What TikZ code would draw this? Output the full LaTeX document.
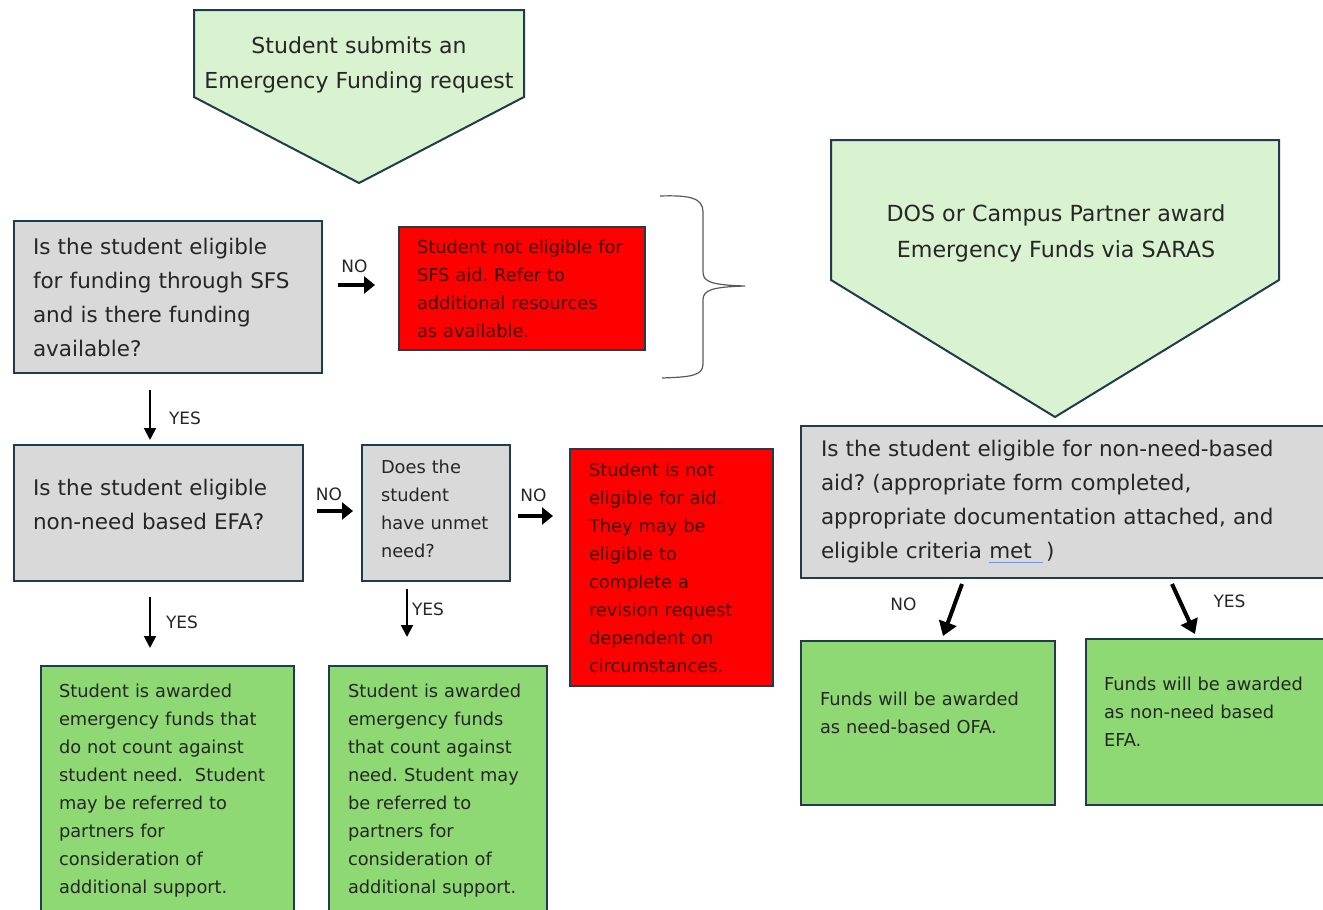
\documentclass[tikz,border=0pt]{standalone}
\usepackage{fontspec}
\setmainfont{DejaVu Sans}
\usetikzlibrary{arrows.meta,calc}

\definecolor{edgeblue}{RGB}{31,59,77}
\definecolor{paleGreen}{RGB}{217,242,208}
\definecolor{boxgray}{RGB}{217,217,217}
\definecolor{alertred}{RGB}{255,0,0}
\definecolor{redtext}{RGB}{70,0,0}
\definecolor{okgreen}{RGB}{142,217,115}
\definecolor{txtgray}{RGB}{38,38,38}
\definecolor{ulblue}{RGB}{120,150,220}
\frenchspacing

\begin{document}
\begin{tikzpicture}[x=1pt,y=1pt,yscale=-1,
  box/.style={draw=edgeblue, line width=2pt, anchor=north west, align=left, inner ysep=0pt, text=txtgray},
  qbox/.style={box, fill=boxgray, font=\fontsize{21.5}{34}\selectfont},
  smallq/.style={box, fill=boxgray, font=\fontsize{17.8}{28}\selectfont},
  nobox/.style={box, fill=alertred, text=redtext, font=\fontsize{17.8}{28}\selectfont},
  okbox/.style={box, fill=okgreen, font=\fontsize{17.8}{28}\selectfont},
  pent/.style={draw=edgeblue, line width=2pt, fill=paleGreen},
  pentxt/.style={align=center, text=txtgray, inner sep=0pt},
  lbl/.style={text=txtgray, inner sep=0pt, font=\fontsize{17}{20}\selectfont},
  fatarr/.style={line width=4.5pt, -{Triangle[length=11pt,width=17pt]}},
  thinarr/.style={line width=2pt, -{Triangle[length=12pt,width=12pt]}},
  slantarr/.style={line width=4pt, -{Triangle[length=14pt,width=18pt]}}
]
\clip (0,0) rectangle (1323,910);

%Shape: Pentagon [start]
\draw[pent] (194,10) -- (524,10) -- (524,97) -- (359,183) -- (194,97) -- cycle;
% Text Node
\node[pentxt, font=\fontsize{22}{35}\selectfont] (start) at (359,65) {Student submits an\\ Emergency Funding request};

%Shape: Pentagon [award]
\draw[pent] (831,140) -- (1279,140) -- (1279,280) -- (1055,417) -- (831,280) -- cycle;
% Text Node
\node[pentxt, font=\fontsize{22.2}{36}\selectfont] (award) at (1056,233) {DOS or Campus Partner award\\ Emergency Funds via SARAS};

% Question boxes
\node[qbox, minimum width=308, minimum height=152, inner xsep=19, text width=270] (sfs) at (13,220)
  {Is the student eligible\\ for funding through SFS\\ and is there funding\\ available?};
\node[qbox, minimum width=289, minimum height=136, inner xsep=19, text width=251] (efa) at (13,444)
  {Is the student eligible\\ non-need based EFA?\\[-16pt]\mbox{}};
\node[smallq, minimum width=148, minimum height=136, inner xsep=19, text width=110] (unmet) at (361,444)
  {Does the\\ student\\ have unmet\\ need?\\[-20pt]\mbox{}};
\node[qbox, minimum width=560, minimum height=152, inner xsep=19, text width=520] (nonneed) at (800,425)
  {Is the student eligible for non-need-based\\ aid? (appropriate form completed,\\ appropriate documentation attached, and\\ eligible criteria \rlap{\color{ulblue}\rule[-4pt]{54pt}{1.2pt}}met~~)};

% Red boxes
\node[nobox, minimum width=246, minimum height=123, inner xsep=18, text width=210] (refer) at (398,226)
  {Student not eligible for\\ SFS aid. Refer to\\ additional resources\\ as available.};
\node[nobox, minimum width=203, minimum height=237, inner xsep=19, text width=165] (revise) at (569,448)
  {Student is not\\ eligible for aid.\\ They may be\\ eligible to\\ complete a\\ revision request\\ dependent on\\ circumstances.};

% Green boxes
\node[okbox, minimum width=253, minimum height=250, inner xsep=18, text width=217] (nocount) at (40,665)
  {Student is awarded\\ emergency funds that\\ do not count against\\ student need.~ Student\\ may be referred to\\ partners for\\ consideration of\\ additional support.};
\node[okbox, minimum width=218, minimum height=250, inner xsep=19, text width=180] (count) at (328,665)
  {Student is awarded\\ emergency funds\\ that count against\\ need. Student may\\ be referred to\\ partners for\\ consideration of\\ additional support.};
\node[okbox, minimum width=254, minimum height=164, inner xsep=19, text width=216] (ofa) at (800,640)
  {Funds will be awarded\\ as need-based OFA.\\[-8pt]\mbox{}};
\node[okbox, minimum width=260, minimum height=166, inner xsep=18, text width=224] (nnefa) at (1085,638)
  {Funds will be awarded\\ as non-need based\\ EFA.\\[-8pt]\mbox{}};

%Shape: Brace
\draw[gray!70!black, line width=1.2pt] (660,196) .. controls (690,195) and (703,198) .. (703,212) -- (703,272)
  .. controls (703,282) and (712,285) .. (745,286) .. controls (712,287) and (703,290) .. (703,300) -- (703,364)
  .. controls (703,376) and (690,377) .. (662,378);

% Arrows
\draw[fatarr] ($(sfs.north east)+(15,65)$) -- ($(refer.north west)+(-23,59)$)
  node[lbl, midway, xshift=-2, yshift=19] {NO};
\draw[thinarr] ($(sfs.south west)+(137,16)$) -- ($(efa.north west)+(137,-4)$)
  node[lbl, midway, xshift=35, yshift=-3] {YES};
\draw[fatarr] ($(efa.north east)+(13,67)$) -- ($(unmet.north west)+(-8,67)$)
  node[lbl, midway, xshift=-6, yshift=17] {NO};
\draw[fatarr] ($(unmet.north east)+(7,72)$) -- ($(revise.north west)+(-16,68)$)
  node[lbl, midway, xshift=-2, yshift=21] {NO};
\draw[thinarr] ($(efa.south west)+(137,15)$) -- ($(nocount.north west)+(110,-17)$)
  node[lbl, midway, xshift=32, yshift=0] {YES};
\draw[thinarr] ($(unmet.south west)+(46,7)$) -- ($(count.north west)+(79,-28)$)
  node[lbl, midway, xshift=21, yshift=4] {YES};
\draw[slantarr] ($(nonneed.south west)+(162,5)$) -- ($(ofa.north west)+(143,-4)$)
  node[lbl, midway, xshift=-49, yshift=6] {NO};
\draw[slantarr] ($(nonneed.south west)+(372,5)$) -- ($(nnefa.north west)+(110,-4)$)
  node[lbl, midway, xshift=46, yshift=8] {YES};

\end{tikzpicture}
\end{document}
